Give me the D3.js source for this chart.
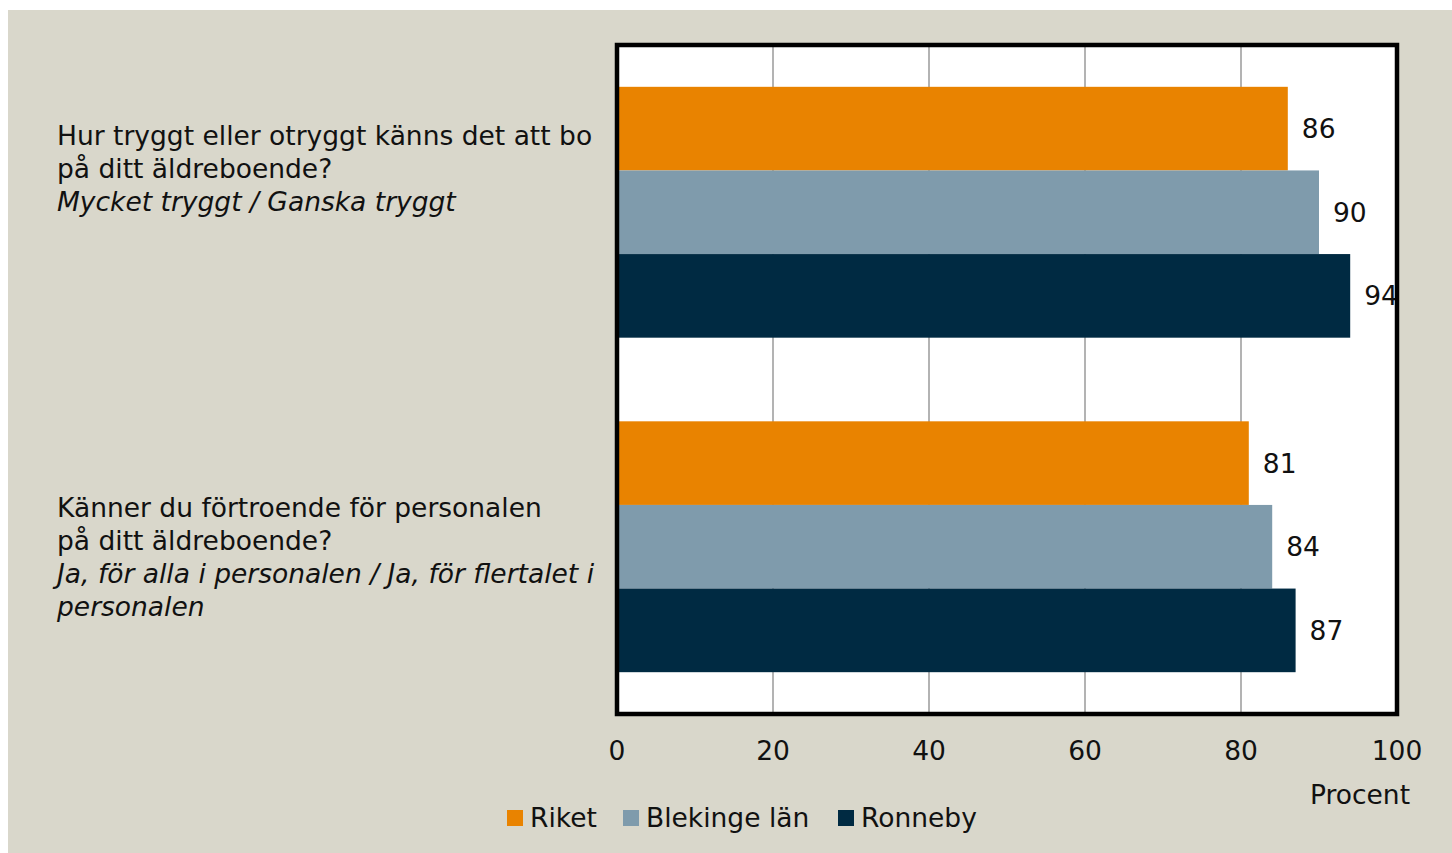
<!DOCTYPE html>
<html>
<head>
<meta charset="utf-8">
<script src="https://cdn.jsdelivr.net/npm/d3@7"></script>
<style>
  body { margin: 0; background: #fff; }
  svg text { font-family: "DejaVu Sans", sans-serif; fill: #111; }
</style>
</head>
<body>
<svg id="chart" width="1452" height="853"></svg>
<script>
var questions = ["q1", "q2"];
var questionLines = [
  ["Hur tryggt eller otryggt känns det att bo", "på ditt äldreboende?"],
  ["Känner du förtroende för personalen", "på ditt äldreboende?"]
];
var answerLines = [
  ["Mycket tryggt / Ganska tryggt"],
  ["Ja, för alla i personalen / Ja, för flertalet i", "personalen"]
];
var seriesNames = ["Riket", "Blekinge län", "Ronneby"];
var riket = [86, 81];
var blekinge = [90, 84];
var ronneby = [94, 87];
var xTicks = [0, 20, 40, 60, 80, 100];
var colors = ["#e98300", "#7f9bac", "#002a42"];

var values = [riket, blekinge, ronneby];

var svg = d3.select("#chart");
var fontSize = 26.5;

// beige backdrop
svg.append("rect")
  .attr("x", 8).attr("y", 10)
  .attr("width", 1452 - 8).attr("height", 853 - 10)
  .attr("fill", "#d9d7cb");

var plot = {left: 617, right: 1397, top: 45, bottom: 714};

var x = d3.scaleLinear().domain([0, 100]).range([plot.left, plot.right]);
var y = d3.scaleBand().domain(questions).range([plot.top, plot.bottom])
  .paddingInner(0.25).paddingOuter(0.125);
var ySub = d3.scaleBand().domain(d3.range(seriesNames.length)).range([0, y.bandwidth()]);

svg.append("rect")
  .attr("x", plot.left).attr("y", plot.top)
  .attr("width", plot.right - plot.left).attr("height", plot.bottom - plot.top)
  .attr("fill", "#fff");

// gridlines
svg.append("g")
  .selectAll("line")
  .data(xTicks.slice(1, -1))
  .join("line")
    .attr("x1", d => x(d)).attr("x2", d => x(d))
    .attr("y1", plot.top).attr("y2", plot.bottom)
    .attr("stroke", "#9a9a9a")
    .attr("stroke-width", 1.5);

// bars
var barData = [];
questions.forEach(function(q, i) {
  values.forEach(function(s, j) {
    barData.push({q: q, s: j, v: s[i]});
  });
});

svg.append("g")
  .selectAll("rect")
  .data(barData)
  .join("rect")
    .attr("x", x(0))
    .attr("y", d => y(d.q) + ySub(d.s))
    .attr("width", d => x(d.v) - x(0))
    .attr("height", ySub.bandwidth())
    .attr("fill", d => colors[d.s]);

svg.append("g")
  .selectAll("text")
  .data(barData)
  .join("text")
    .attr("x", d => x(d.v) + 14)
    .attr("y", d => y(d.q) + ySub(d.s) + ySub.bandwidth() / 2)
    .attr("dy", "0.36em")
    .attr("font-size", fontSize)
    .text(d => d.v);

// plot border
svg.append("rect")
  .attr("x", plot.left).attr("y", plot.top)
  .attr("width", plot.right - plot.left).attr("height", plot.bottom - plot.top)
  .attr("fill", "none")
  .attr("stroke", "#000")
  .attr("stroke-width", 4.5);

// x axis labels
svg.append("g")
  .selectAll("text")
  .data(xTicks)
  .join("text")
    .attr("x", d => x(d))
    .attr("y", 760)
    .attr("text-anchor", "middle")
    .attr("font-size", fontSize)
    .text(d => d);

svg.append("text")
  .attr("x", 1360).attr("y", 804)
  .attr("text-anchor", "middle")
  .attr("font-size", fontSize)
  .text("Procent");

// category labels
var labelTop = [145, 517];
questions.forEach(function(q, i) {
  var g = svg.append("g");
  var lines = questionLines[i].map(t => ({t: t, italic: false}))
    .concat(answerLines[i].map(t => ({t: t, italic: true})));
  g.selectAll("text")
    .data(lines)
    .join("text")
      .attr("x", 57)
      .attr("y", (d, k) => labelTop[i] + k * 33)
      .attr("font-size", fontSize)
      .attr("font-style", d => d.italic ? "italic" : null)
      .text(d => d.t);
});

// legend
var legendX = [507, 623, 838];
var lg = svg.append("g")
  .selectAll("g")
  .data(seriesNames)
  .join("g")
    .attr("transform", (d, i) => `translate(${legendX[i]},810)`);
lg.append("rect")
  .attr("width", 16).attr("height", 16)
  .attr("fill", (d, i) => colors[i]);
lg.append("text")
  .attr("x", 23).attr("y", 17)
  .attr("font-size", fontSize)
  .text(d => d);
</script>
</body>
</html>
